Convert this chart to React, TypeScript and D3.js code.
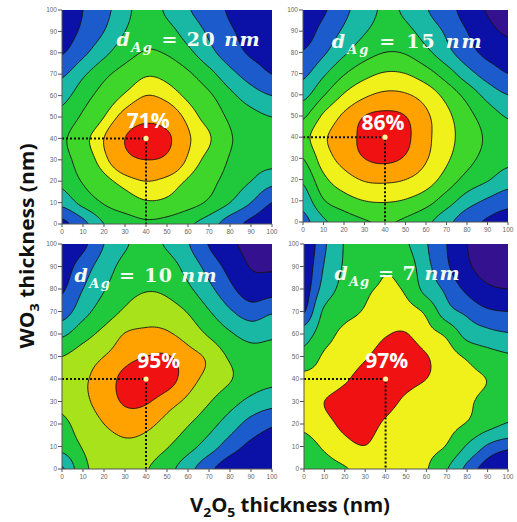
import React from "react";
import * as d3 from "d3";

// Axis ticks (nm) shared by both thickness axes
const axisTicks = [0, 10, 20, 30, 40, 50, 60, 70, 80, 90, 100];

// Simulated transmittance (%) on a 10 nm mesh.
// Each row is one WO3 thickness (0 -> 100 nm), each column one V2O5 thickness (0 -> 100 nm).
const tAg20 = [
  [33, 40, 48, 51, 53, 52, 49, 45, 38.5, 33, 29],
  [44, 50, 54.5, 57.5, 59.5, 59, 56.5, 53, 48, 42, 35],
  [49.5, 54.5, 58.5, 61.5, 63, 62, 59.5, 56, 51.5, 48, 44],
  [52, 57, 62, 66.5, 68, 67, 62.5, 58.5, 53.5, 50.5, 50],
  [53, 58.5, 63, 68, 71, 69, 63.5, 60.5, 54.5, 52, 51],
  [50, 55, 60, 64.5, 66.5, 65.5, 62, 58, 53, 50, 48],
  [46, 51.5, 56.5, 60.5, 63, 62, 59, 55, 49.5, 45, 42],
  [41, 47, 52.5, 56.5, 59.5, 58.5, 55, 50, 44, 39, 35],
  [34.5, 40.5, 46.5, 51.5, 54.5, 53.5, 49.5, 44, 38.5, 34, 32],
  [31, 36.5, 42, 48, 52, 50, 45.5, 41, 36, 32, 28],
  [28, 35, 40, 46, 51, 47, 42.5, 39, 34, 31, 28],
];

const tAg15 = [
  [52, 59, 63, 65.5, 66.5, 65, 61.5, 56, 50, 46, 43],
  [56.5, 65.5, 69.5, 72, 72.5, 71.5, 68.5, 63, 57, 53, 50],
  [61, 70.5, 75.5, 78.5, 79, 78, 75, 69.5, 64, 60.5, 57],
  [66, 75, 80, 83, 84, 82.5, 78.5, 73, 68, 64, 61.5],
  [70, 77, 81, 84, 86, 84, 79.5, 74, 69.5, 65, 62],
  [65, 73, 79, 83, 84, 83, 79, 73.5, 68, 63, 59.5],
  [58, 65.5, 72.5, 77, 79, 78.5, 75.5, 70, 64, 58, 54],
  [52.5, 59, 65.5, 70, 72.5, 72, 68.5, 63, 56.5, 51, 47],
  [47.5, 53, 59, 63.5, 66, 65.5, 61.5, 56, 50, 45, 43],
  [43, 49.5, 55, 59.5, 62.5, 61.5, 57.5, 53, 47, 42, 39],
  [41, 46, 52.5, 57, 61, 59, 54.5, 50, 44, 39.5, 36],
];

const tAg10 = [
  [67, 82, 86, 86.5, 84.5, 79, 71, 62, 55, 52, 51],
  [79, 84.5, 87.5, 89, 88, 84.5, 79, 72, 64, 58, 56],
  [82.5, 87, 90, 91.5, 91, 88.5, 84.5, 79, 72, 65, 61],
  [85.5, 89, 91.5, 93.3, 93.3, 91.5, 89, 84.5, 79, 74, 71],
  [86, 89.3, 91.5, 93.8, 95, 94.2, 91.5, 88.5, 84.5, 80, 78],
  [84, 87.5, 90, 92, 93, 93.2, 91.5, 89, 83, 79.5, 79],
  [74.5, 81, 86, 90.2, 90.7, 90.5, 88, 83, 77, 73, 74.5],
  [64, 73, 80, 85, 88, 87, 83.5, 76.5, 69, 64, 67],
  [59, 68, 75.5, 81, 83.5, 82.5, 77.5, 70, 62, 55, 56],
  [56, 64, 72, 78.5, 81.5, 79.5, 73, 65, 57, 49.5, 48.5],
  [52, 58, 68, 75, 78.5, 75, 68.5, 59.5, 52, 47, 44],
];

const tAg7 = [
  [79, 83, 85.5, 88, 89, 88.5, 86.5, 78.5, 68, 61, 57],
  [83, 87, 91, 92.8, 89.5, 89, 88, 85.5, 77, 69, 65.5],
  [87.5, 91, 94.4, 95.5, 92, 89, 89, 88, 85.5, 81, 77.5],
  [89.5, 93, 95.6, 96.8, 95.4, 91.7, 89, 89, 87, 84, 81],
  [88, 89, 92.1, 95.7, 97, 95.3, 93, 90.5, 87.5, 85.8, 82],
  [81, 87, 89, 92.3, 95.8, 96.5, 93.4, 89, 85, 81.5, 79],
  [74, 83, 87.5, 89, 92.5, 93.3, 88.6, 84.5, 75, 72, 70.5],
  [63.5, 79.5, 84, 86.5, 89, 88.5, 84.5, 73, 68.5, 65, 64],
  [61, 73, 81, 85, 86.5, 85, 75, 68.5, 62.5, 57.5, 56],
  [60, 70.5, 79, 83, 85.5, 83, 72, 65, 57.5, 52, 50],
  [59, 69, 78.5, 81, 82, 79, 70.5, 64, 56, 50, 48],
];

// Contour levels (%) of each map
const levelsAg20 = [35, 42, 48, 54, 60, 63, 68];
const levelsAg15 = [40, 47, 54, 60, 66, 72, 78, 83];
const levelsAg10 = [50, 60, 68, 76, 84, 90, 93];
const levelsAg7 = [56, 64, 70, 78, 86, 93];

// Silver thickness of each map, and its best transmittance at the optimum stack
const agThickness = ["20", "15", "10", "7"];
const peakTransmittance = [71, 86, 95, 97];
const optimumV2O5 = 40;
const optimumWO3 = 40;

const C = {
  indigo: "#34118f",
  navy: "#0b10a6",
  blue: "#1b5bcb",
  teal: "#19b8a5",
  green: "#20c83c",
  lime: "#3ed62a",
  yellowGreen: "#a8e21a",
  yellow: "#f0f01a",
  orange: "#ffa200",
  red: "#f01212",
};

const fillsAg20 = [C.navy, C.blue, C.teal, C.green, C.lime, C.yellow, C.orange, C.red];
const fillsAg15 = [C.indigo, C.navy, C.blue, C.teal, C.green, C.lime, C.yellow, C.orange, C.red];
const fillsAg10 = [C.indigo, C.navy, C.blue, C.teal, C.green, C.yellowGreen, C.orange, C.red];
const fillsAg7 = [C.indigo, C.navy, C.blue, C.teal, C.green, C.yellow, C.red];

const maps = [
  { grid: tAg20, levels: levelsAg20, fills: fillsAg20 },
  { grid: tAg15, levels: levelsAg15, fills: fillsAg15 },
  { grid: tAg10, levels: levelsAg10, fills: fillsAg10 },
  { grid: tAg7, levels: levelsAg7, fills: fillsAg7 },
];

// Frame of each map in page pixels, plus where its captions sit (in nm)
const layout = [
  { left: 62, right: 272, top: 10, bottom: 224, title: [26, 83], titleWidth: 143, peakLabel: [41, 45] },
  { left: 303, right: 508, top: 10, bottom: 222, title: [14, 82], titleWidth: 150, peakLabel: [39, 43.5] },
  { left: 62, right: 272, top: 244, bottom: 469, title: [6, 83], titleWidth: 142, peakLabel: [46, 45] },
  { left: 304, right: 508, top: 244, bottom: 469, title: [15, 84], titleWidth: 125, peakLabel: [40.5, 45] },
];

type Box = (typeof layout)[number];

// Catmull-Rom cubic through four samples
function cubic(p0: number, p1: number, p2: number, p3: number, t: number) {
  return p1 + 0.5 * t * (p2 - p0 + t * (2 * p0 - 5 * p1 + 4 * p2 - p3 + t * (3 * (p1 - p2) + p3 - p0)));
}

// Smooth surface through the mesh nodes (bicubic), sampled at mesh coordinates (gx, gy)
function surfaceAt(grid: number[][], gx: number, gy: number) {
  const n = grid.length;
  const cl = (i: number) => Math.max(0, Math.min(n - 1, i));
  const ix = Math.min(n - 2, Math.floor(gx));
  const iy = Math.min(n - 2, Math.floor(gy));
  const fx = gx - ix;
  const fy = gy - iy;
  const rows = [-1, 0, 1, 2].map((dj) => {
    const r = grid[cl(iy + dj)];
    return cubic(r[cl(ix - 1)], r[cl(ix)], r[cl(ix + 1)], r[cl(ix + 2)], fx);
  });
  return cubic(rows[0], rows[1], rows[2], rows[3], fy);
}

const RES = 1; // nm per rendered surface cell

function ContourMap({ idx, grid, levels, fills, box }: { idx: number; grid: number[][]; levels: number[]; fills: string[]; box: Box }) {
  const n = grid.length;
  const step = 100 / (n - 1);
  const m = Math.round(100 / RES) + 1;
  const x = d3.scaleLinear().domain([0, 100]).range([box.left, box.right]);
  const y = d3.scaleLinear().domain([0, 100]).range([box.bottom, box.top]);

  const surface: number[] = new Array(m * m);
  for (let j = 0; j < m; j++) {
    for (let i = 0; i < m; i++) {
      surface[j * m + i] = surfaceAt(grid, (i * RES) / step, (j * RES) / step);
    }
  }
  const gen = d3.contours().size([m, m]);
  const toPx = (p: number[]) => `${x((p[0] - 0.5) * RES).toFixed(2)},${y((p[1] - 0.5) * RES).toFixed(2)}`;

  const bands = levels.map((v) => {
    const g = gen.contour(surface, v);
    return g.coordinates
      .map((poly) => poly.map((r) => "M" + r.map(toPx).join("L") + "Z").join(""))
      .join("");
  });

  const clipId = `clip-map-${idx}`;
  const w = box.right - box.left;
  const h = box.bottom - box.top;
  const [tx, ty] = box.title;
  const [px, py] = box.peakLabel;

  return (
    <g>
      <defs>
        <clipPath id={clipId}>
          <rect x={box.left} y={box.top} width={w} height={h} />
        </clipPath>
      </defs>
      <g clipPath={`url(#${clipId})`}>
        <rect x={box.left} y={box.top} width={w} height={h} fill={fills[0]} />
        {bands.map((d, i) => (
          <path key={`f${i}`} d={d} fill={fills[i + 1]} fillRule="evenodd" />
        ))}
        {bands.map((d, i) => (
          <path key={`s${i}`} d={d} fill="none" stroke="#141414" strokeWidth={0.9} strokeLinejoin="round" />
        ))}
        {/* guide lines to the optimum stack */}
        <path
          d={`M${x(0)},${y(optimumWO3)}H${x(optimumV2O5)}V${y(0)}`}
          fill="none"
          stroke="#111"
          strokeWidth={2}
          strokeDasharray="2,2"
        />
        <circle cx={x(optimumV2O5)} cy={y(optimumWO3)} r={2.6} fill="#fff6a0" />
        <text
          x={x(px)}
          y={y(py)}
          textAnchor="middle"
          fill="#ffffff"
          fontFamily="'Open Sans', sans-serif"
          fontWeight={700}
          fontSize={21}
        >
          {`${peakTransmittance[idx]}%`}
        </text>
        <text
          x={x(tx)}
          y={y(ty)}
          fill="#f2fbef"
          fontFamily="'DejaVu Serif', serif"
          fontWeight={700}
          fontSize={19}
          textLength={box.titleWidth}
          lengthAdjust="spacing"
        >
          <tspan fontStyle="italic">d</tspan>
          <tspan fontStyle="italic" fontSize={13} dy={6}>Ag</tspan>
          <tspan dy={-6}>{" = "}{agThickness[idx]}{" "}</tspan>
          <tspan fontStyle="italic">nm</tspan>
        </text>
      </g>
      {/* axes */}
      <line x1={box.left} x2={box.left} y1={box.top} y2={box.bottom} stroke="#555" strokeWidth={1} />
      <line x1={box.left} x2={box.right} y1={box.bottom} y2={box.bottom} stroke="#555" strokeWidth={1} />
      {axisTicks.map((t) => (
        <g key={`x${t}`}>
          <line x1={x(t)} x2={x(t)} y1={box.bottom} y2={box.bottom + 3} stroke="#555" />
          <text x={x(t)} y={box.bottom + 10} textAnchor="middle" fontSize={6.5} fill="#666" fontFamily="'Liberation Sans', sans-serif">
            {t}
          </text>
        </g>
      ))}
      {axisTicks.map((t) => (
        <g key={`y${t}`}>
          <line x1={box.left - 4} x2={box.left} y1={y(t)} y2={y(t)} stroke="#555" />
          <text x={box.left - 5} y={y(t) + 2.2} textAnchor="end" fontSize={6.5} fill="#666" fontFamily="'Liberation Sans', sans-serif">
            {t}
          </text>
        </g>
      ))}
    </g>
  );
}

export default function App() {
  return (
    <svg
      width={517}
      height={522}
      viewBox="0 0 517 522"
      style={{ position: "absolute", left: 0, top: 0, background: "#fff" }}
    >
      {maps.map((m, i) => (
        <ContourMap key={i} idx={i} grid={m.grid} levels={m.levels} fills={m.fills} box={layout[i]} />
      ))}
      <text
        transform="translate(34,246) rotate(-90)"
        textAnchor="middle"
        fontFamily="'Open Sans', sans-serif"
        fontWeight={700}
        fontSize={19}
        fill="#111"
        textLength={205}
        lengthAdjust="spacingAndGlyphs"
      >
        WO<tspan fontSize={13} dy={5}>3</tspan>
        <tspan dy={-5}> thickness (nm)</tspan>
      </text>
      <text
        x={290}
        y={512}
        textAnchor="middle"
        fontFamily="'Open Sans', sans-serif"
        fontWeight={700}
        fontSize={19}
        fill="#111"
        textLength={200}
        lengthAdjust="spacingAndGlyphs"
      >
        V<tspan fontSize={13} dy={5}>2</tspan>
        <tspan dy={-5}>O</tspan>
        <tspan fontSize={13} dy={5}>5</tspan>
        <tspan dy={-5}> thickness (nm)</tspan>
      </text>
    </svg>
  );
}
